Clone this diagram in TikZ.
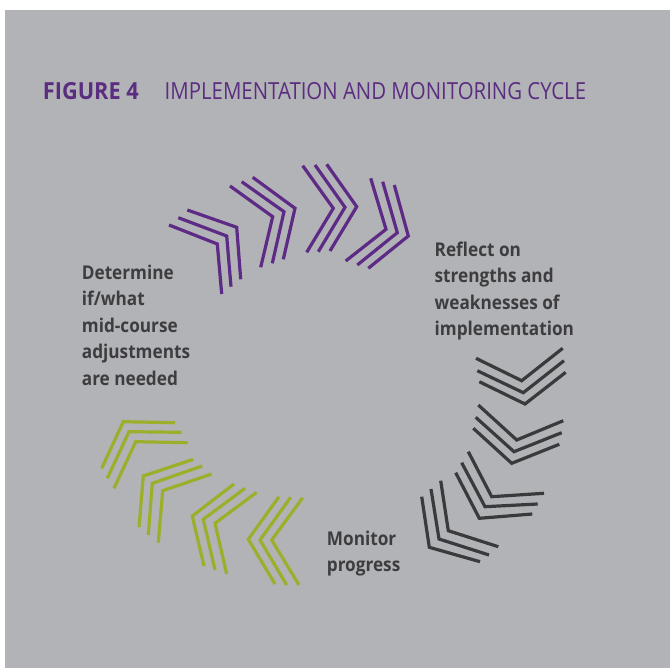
\documentclass[tikz,border=0pt]{standalone}
\usepackage{fontspec}
\setmainfont{Open Sans}
\newfontfamily\cndr[FakeStretch=0.868]{Open Sans}
\newfontfamily\cndt[FakeStretch=0.925]{Open Sans Bold}
\newfontfamily\cndb[FakeStretch=0.905]{Open Sans Bold}
\definecolor{bgc}{HTML}{B2B3B7}
\definecolor{ttlc}{HTML}{5B2D80}
\definecolor{purc}{HTML}{5D2A85}
\definecolor{dkc}{HTML}{3A3A3C}
\definecolor{grnc}{HTML}{9BAF2A}
\definecolor{txtc}{HTML}{3D3D40}
\tikzset{
  chev/.style={line width=3.2pt, line join=miter, line cap=butt},
  lbl/.style={anchor=north west, inner sep=0pt, align=left, text=txtc,
    font=\cndb\fontsize{19}{26.5}\selectfont},
}
\begin{document}
\begin{tikzpicture}[x=1pt,y=-1pt]
\useasboundingbox (0,0) rectangle (670,668);
\fill[bgc] (5,10) rectangle (670,668);
% title
\node[anchor=base west, inner sep=0pt, text=ttlc, font=\cndt\fontsize{23.5}{24}\selectfont] (fig) at (42.7,99.6) {FIGURE 4};
\node[anchor=base west, inner sep=0pt, text=ttlc, font=\cndr\fontsize{23.5}{24}\selectfont] (title) at (164.5,99.6) {IMPLEMENTATION AND MONITORING CYCLE};
% labels
\node[lbl] (det) at (81.7,264.6) {Determine\\if/what\\mid-course\\adjustments\\are needed};
\node[lbl] (refl) at (434.5,241.6) {Reflect on\\strengths and\\weaknesses of\\implementation};
\node[lbl] (mon) at (326.7,530.7) {Monitor\\progress};
% purple chevrons
\begin{scope}[chev, draw=purc]
\draw (169,225)--(217.3,244)--(221.7,294);
\draw (178.3,217.7)--(226.7,236)--(231,286.7);
\draw (187.3,210)--(236.7,227.3)--(240.7,279.3);
\draw (230,186)--(272.7,216.7)--(260.7,267.3);
\draw (241.7,181.7)--(284,211.7)--(272.3,263.3);
\draw (252.7,177.3)--(295,208.3)--(283.3,259.3);
\draw (302.7,165.7)--(333.3,208.3)--(306.7,252.3);
\draw (315,165)--(345,207.3)--(318.3,251.7);
\draw (326.7,164.3)--(356.7,206.7)--(330,251);
\draw (370.7,178.3)--(386,229.3)--(345.7,261);
\draw (382.7,181.7)--(397.3,232.7)--(357.3,265);
\draw (394.3,185)--(408.3,236)--(368.3,268.3);
\end{scope}
% dark chevrons
\begin{scope}[chev, draw=dkc]
\draw (476,358.3)--(521.7,380.7)--(562.7,348.3);
\draw (477.3,370.7)--(523.3,392.7)--(564,360.7);
\draw (479.3,381.7)--(525,404)--(565.7,372.3);
\draw (478.3,405)--(516.7,440)--(563.3,420.7);
\draw (475.7,417.3)--(514,451.7)--(561.7,432.7);
\draw (473.3,428.3)--(511.7,463.3)--(559.3,444.3);
\draw (468.3,451.7)--(491.7,496.7)--(544,493.3);
\draw (461.7,462.7)--(485,506.7)--(537.7,504);
\draw (455.7,472.7)--(479.3,518.3)--(532.3,514);
\draw (440.7,480.7)--(448.3,530.7)--(498.3,546.7);
\draw (431,489)--(439,539)--(489,555);
\draw (421.7,496.7)--(429.3,547.3)--(480,561.7);
\end{scope}
% green chevrons
\begin{scope}[chev, draw=grnc]
\draw (101.7,468.3)--(123.3,421.7)--(175,422.7);
\draw (107.3,478.3)--(129,431.7)--(181.7,432.3);
\draw (114,488.3)--(135.7,441.7)--(187.7,442.7);
\draw (139,527.3)--(143.3,476)--(193.3,459.3);
\draw (148.3,535)--(152.3,483.3)--(202.3,466);
\draw (158.3,542.7)--(162.7,490.7)--(211.7,474);
\draw (204,566)--(192.3,516)--(234,484);
\draw (215,570)--(203.3,519.3)--(245,488.3);
\draw (226.7,574)--(215,523.3)--(256.7,492.3);
\draw (275,584)--(248.3,539.3)--(279,496.7);
\draw (286.7,585)--(260,540)--(290.7,497.3);
\draw (299,585)--(271.7,540)--(302.7,497.7);
\end{scope}
\end{tikzpicture}
\end{document}
